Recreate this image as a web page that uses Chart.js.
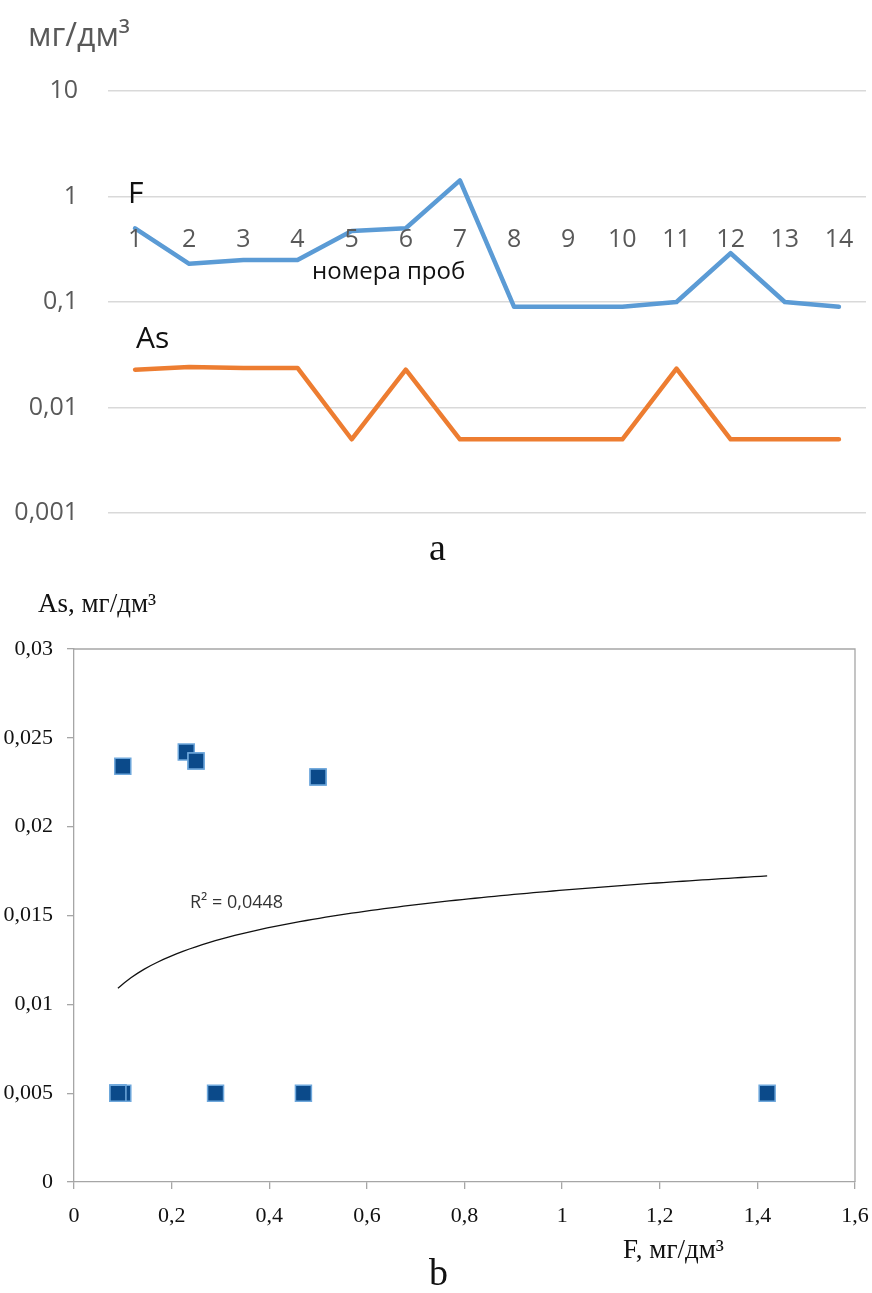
<!DOCTYPE html>
<html>
<head>
<meta charset="utf-8">
<script src="https://cdn.jsdelivr.net/npm/chart.js@4/dist/chart.umd.min.js"></script>
<style>
    body { margin: 0; background: #fff; width: 872px; height: 1293px; position: relative; overflow: hidden; }
    canvas { position: absolute; left: 0; }
    .cap { position: absolute; font-family: "Liberation Serif", serif; font-size: 38px; color: #111; }
</style>
</head>
<body>
<canvas id="chartA" width="872" height="540" style="top:0"></canvas>
<canvas id="chartB" width="872" height="733" style="top:560px"></canvas>
<div class="cap" style="left:429px; top:525px">a</div>
<div class="cap" style="left:429px; top:1250px">b</div>
<script>
// sample numbers (номера проб)
const samples = ["1", "2", "3", "4", "5", "6", "7", "8", "9", "10", "11", "12", "13", "14"];
// concentrations, mg/dm3
const fValues = [0.5, 0.23, 0.25, 0.25, 0.47, 0.5, 1.42, 0.09, 0.09, 0.09, 0.1, 0.29, 0.1, 0.09];
const asValues = [0.0228, 0.0242, 0.0237, 0.0237, 0.005, 0.0228, 0.005, 0.005, 0.005, 0.005, 0.0234, 0.005, 0.005, 0.005];
// tick labels
const logTicks = [0.001, 0.01, 0.1, 1, 10];
const r2Label = "R² = 0,0448";

function fmt(v) {
    return String(parseFloat(Number(v).toFixed(4))).replace(".", ",");
}

// ---------- chart a ----------
const textA = {
    id: "textA",
    afterDraw(chart) {
        const ctx = chart.ctx;
        const x = chart.scales.x, y = chart.scales.y;
        ctx.save();
        ctx.textAlign = "center";
        ctx.textBaseline = "alphabetic";
        ctx.fillStyle = "#595959";
        ctx.font = "25px 'Open Sans'";
        const base = y.getPixelForValue(1) + 50;
        samples.forEach((s, i) => ctx.fillText(s, x.getPixelForValue(i), base));
        ctx.font = "32px 'Open Sans'";
        ctx.textAlign = "left";
        ctx.fillText("мг/дм³", 28, 46);
        ctx.fillStyle = "#111";
        ctx.font = "24px 'Open Sans'";
        ctx.fillText("номера проб", 312, 279);
        ctx.font = "30px 'Open Sans'";
        ctx.fillText("F", 128, 203);
        ctx.fillText("As", 136, 348);
        ctx.restore();
    }
};

new Chart(document.getElementById("chartA"), {
    type: "line",
    data: {
        labels: samples,
        datasets: [{
                label: "F",
                data: fValues,
                borderColor: "#5B9BD5",
                borderWidth: 4.5,
                pointRadius: 0,
                borderJoinStyle: "round",
                borderCapStyle: "round"
            }, {
                label: "As",
                data: asValues,
                borderColor: "#ED7D31",
                borderWidth: 4.5,
                pointRadius: 0,
                borderJoinStyle: "round",
                borderCapStyle: "round"
            }]
    },
    options: {
        responsive: false,
        animation: false,
        devicePixelRatio: 1,
        layout: { padding: { left: 0, right: 6, top: 91, bottom: 27 } },
        plugins: { legend: { display: false }, tooltip: { enabled: false } },
        scales: {
            x: { type: "category", offset: true, display: false },
            y: {
                type: "logarithmic",
                min: 0.001,
                max: 10,
                afterBuildTicks: (s) => { s.ticks = logTicks.map(v => ({ value: v })); },
                afterFit: (s) => { s.width = 108; s.paddingTop = 0; s.paddingBottom = 0; },
                border: { display: false },
                grid: { color: "#D9D9D9", lineWidth: 1.5, drawTicks: false },
                ticks: {
                    padding: 30,
                    color: "#595959",
                    font: { family: "'Open Sans'", size: 25 },
                    callback: (v) => fmt(v)
                }
            }
        }
    },
    plugins: [textA]
});

// ---------- chart b ----------
// logarithmic trend line y = a*ln(x) + b, least squares over the points
const lnF = fValues.map(v => Math.log(v));
const n = fValues.length;
const mx = lnF.reduce((s, v) => s + v, 0) / n;
const my = asValues.reduce((s, v) => s + v, 0) / n;
let sxy = 0, sxx = 0;
for (let i = 0; i < n; i++) {
    sxy += (lnF[i] - mx) * (asValues[i] - my);
    sxx += (lnF[i] - mx) * (lnF[i] - mx);
}
const slope = sxy / sxx, inter = my - slope * mx;
const fMin = Math.min(...fValues), fMax = Math.max(...fValues);
const trend = [];
for (let i = 0; i <= 100; i++) {
    const xv = fMin + (fMax - fMin) * i / 100;
    trend.push({ x: xv, y: slope * Math.log(xv) + inter });
}

const textB = {
    id: "textB",
    beforeDraw(chart) {
        const ctx = chart.ctx, a = chart.chartArea;
        ctx.save();
        ctx.strokeStyle = "#A6A6A6";
        ctx.lineWidth = 1.3;
        ctx.beginPath();
        ctx.moveTo(a.left, a.top);
        ctx.lineTo(a.right, a.top);
        ctx.lineTo(a.right, a.bottom);
        ctx.stroke();
        ctx.restore();
    },
    afterDraw(chart) {
        const ctx = chart.ctx;
        ctx.save();
        ctx.fillStyle = "#111";
        ctx.textAlign = "left";
        ctx.font = "27px 'Liberation Serif'";
        ctx.fillText("As, мг/дм³", 38, 52);
        ctx.fillText("F, мг/дм³", 623, 698);
        ctx.fillStyle = "#333";
        ctx.font = "18px 'Open Sans'";
        ctx.fillText(r2Label, 190, 348);
        ctx.restore();
    }
};

const serifTicks = { family: "'Liberation Serif'", size: 22 };

new Chart(document.getElementById("chartB"), {
    type: "scatter",
    data: {
        datasets: [{
                label: "As",
                data: fValues.map((f, i) => ({ x: f, y: asValues[i] })),
                pointStyle: "rect",
                pointRadius: 11.3,
                backgroundColor: "#0B4A8A",
                borderColor: "#6FA8DC",
                borderWidth: 1.5
            }, {
                type: "line",
                label: "trend",
                data: trend,
                borderColor: "#111",
                borderWidth: 1.3,
                pointRadius: 0,
                fill: false
            }]
    },
    options: {
        responsive: false,
        animation: false,
        devicePixelRatio: 1,
        layout: { padding: { left: 0, right: 17, top: 89, bottom: 66 } },
        plugins: { legend: { display: false }, tooltip: { enabled: false } },
        scales: {
            x: {
                type: "linear",
                min: 0,
                max: 1.6,
                afterFit: (s) => { s.height = 45; s.paddingLeft = 0; s.paddingRight = 0; },
                border: { color: "#A6A6A6", width: 1.3 },
                grid: { drawOnChartArea: false, tickLength: 7, color: "#A6A6A6", lineWidth: 1.3 },
                ticks: { stepSize: 0.2, padding: 14, color: "#111", font: serifTicks, callback: (v) => fmt(v) }
            },
            y: {
                type: "linear",
                min: 0,
                max: 0.03,
                afterFit: (s) => { s.width = 74; s.paddingTop = 0; s.paddingBottom = 0; },
                border: { color: "#A6A6A6", width: 1.3 },
                grid: { drawOnChartArea: false, tickLength: 7, color: "#A6A6A6", lineWidth: 1.3 },
                ticks: { stepSize: 0.005, padding: 14, color: "#111", font: serifTicks, callback: (v) => fmt(v) }
            }
        }
    },
    plugins: [textB]
});
</script>
</body>
</html>
